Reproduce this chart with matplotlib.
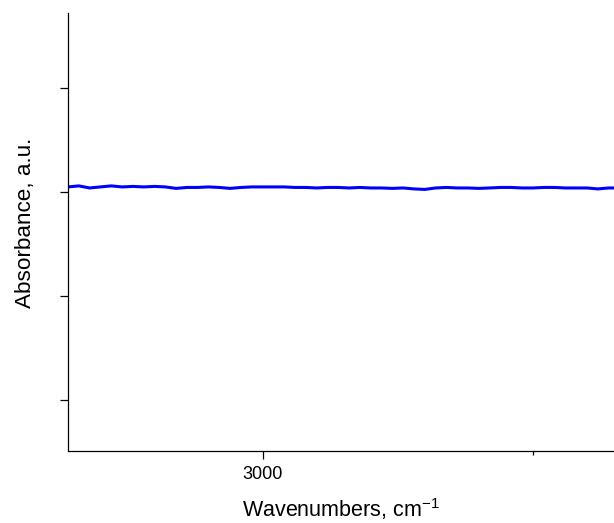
import matplotlib
matplotlib.use("Agg")
import matplotlib.pyplot as plt
from matplotlib.ticker import MultipleLocator, NullFormatter

plt.rcParams['font.family'] = ['Liberation Sans', 'DejaVu Sans']
plt.rcParams['mathtext.fontset'] = 'custom'
plt.rcParams['mathtext.rm'] = 'Liberation Sans'

# IR spectrum, flat baseline region
wavenumber = [3072, 3068, 3064, 3060, 3056, 3052, 3048, 3044, 3040, 3036,
              3032, 3028, 3024, 3020, 3016, 3012, 3008, 3004, 3000, 2996,
              2992, 2988, 2984, 2980, 2976, 2972, 2968, 2964, 2960, 2956,
              2952, 2948, 2944, 2940, 2936, 2932, 2928, 2924, 2920, 2916,
              2912, 2908, 2904, 2900, 2896, 2892, 2888, 2884, 2880, 2876,
              2872, 2868]
absorbance = [2.048, 2.058, 2.038, 2.048, 2.058, 2.048, 2.053, 2.048, 2.053, 2.048,
              2.034, 2.043, 2.043, 2.048, 2.043, 2.034, 2.043, 2.048, 2.048, 2.048,
              2.048, 2.043, 2.043, 2.038, 2.043, 2.043, 2.038, 2.043, 2.038, 2.038,
              2.034, 2.038, 2.029, 2.024, 2.038, 2.043, 2.038, 2.038, 2.034, 2.038,
              2.043, 2.043, 2.038, 2.038, 2.043, 2.043, 2.038, 2.038, 2.038, 2.029,
              2.038, 2.038]

fig = plt.figure(figsize=(6.14, 5.23), dpi=100)
ax = fig.add_axes([0.1107, 0.1377, 0.8893, 0.8375])

ax.plot(wavenumber, absorbance, color='#0000ff', lw=2.2)

ax.set_xlim(3072, 2870)
ax.set_ylim(-0.49, 3.72)

ax.xaxis.set_major_locator(MultipleLocator(200))
ax.xaxis.set_minor_locator(MultipleLocator(100))
ax.xaxis.set_minor_formatter(NullFormatter())
ax.set_yticks([0, 1, 2, 3])
ax.set_yticklabels([])

ax.tick_params(axis='both', which='major', direction='out', length=5.8, width=0.9, labelsize=13, pad=5)
ax.tick_params(axis='x', which='minor', direction='out', length=3, width=0.9)

for side in ['top', 'right']:
    ax.spines[side].set_visible(False)
for side in ['left', 'bottom']:
    ax.spines[side].set_linewidth(0.9)

ax.set_xlabel(r'Wavenumbers, cm$^{\mathregular{-1}}$', fontsize=15.5)
ax.set_ylabel('Absorbance, a.u.', fontsize=16.2)
ax.xaxis.set_label_coords(0.5, -0.102)
ax.yaxis.set_label_coords(-0.059, 0.52)

fig.savefig('out.png', dpi=100)
